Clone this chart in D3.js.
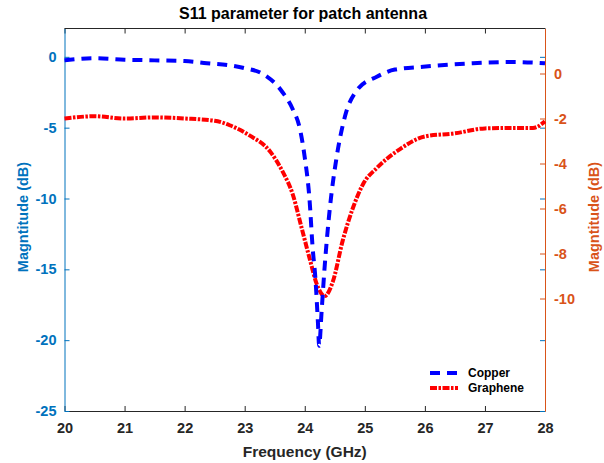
<!DOCTYPE html>
<html><head><meta charset="utf-8">
<script src="https://cdn.jsdelivr.net/npm/d3@7"></script>
<style>
body{margin:0;background:#fff;}
text{font-family:"Liberation Sans",Arial,sans-serif;font-weight:bold;}
</style></head>
<body><svg id="c" width="604" height="463"></svg>
<script>
const freqCopper = [20, 20.5, 21, 21.5, 22, 22.37, 22.75, 23.0, 23.3, 23.63, 23.8, 23.92, 24.0, 24.08, 24.13, 24.18, 24.22, 24.24, 24.28, 24.33, 24.42, 24.53, 24.67, 24.88, 25.2, 25.5, 25.97, 26.4, 26.8, 27.47, 28];
const copper = [-0.25, -0.1, -0.2, -0.25, -0.3, -0.45, -0.6, -0.8, -1.2, -2.5, -3.7, -5.1, -7.1, -10.1, -13.4, -15.8, -18.8, -20.4, -18.0, -14.9, -10.6, -7.1, -4.2, -2.3, -1.4, -0.9, -0.7, -0.55, -0.45, -0.37, -0.45];
const freqGraphene = [20, 20.5, 21, 21.5, 22, 22.5, 22.75, 23.08, 23.42, 23.63, 23.8, 23.95, 24.08, 24.2, 24.33, 24.47, 24.63, 24.8, 24.97, 25.2, 25.58, 26, 26.5, 27, 27.5, 27.8, 28];
const graphene = [-2.0, -1.9, -2.0, -1.95, -2.0, -2.1, -2.3, -2.75, -3.46, -4.35, -5.37, -6.88, -8.21, -9.36, -9.89, -9.23, -7.45, -5.99, -4.92, -4.2, -3.37, -2.8, -2.66, -2.44, -2.42, -2.42, -2.13];
const xTicks = [20, 21, 22, 23, 24, 25, 26, 27, 28];
const leftTicks = [0, -5, -10, -15, -20, -25];
const rightTicks = [0, -2, -4, -6, -8, -10];

const L = 64.5, R = 545, T = 28.5, B = 411;
const blueAx = "#0072BD", orangeAx = "#D95319", dark = "#262626";
const fmt = d => String(d);
const svg = d3.select("#c");
const x = d3.scaleLinear().domain([20, 28]).range([L, R]);
const yL = d3.scaleLinear().domain([-25, 2]).range([B, T]);
const yR = d3.scaleLinear().domain([-15, 2]).range([B, T]);

svg.append("line").attr("x1", L).attr("x2", R).attr("y1", T).attr("y2", T).attr("stroke", dark).attr("stroke-width", 1);

const gx = svg.append("g").attr("transform", `translate(0,${B})`)
  .call(d3.axisBottom(x).tickValues(xTicks).tickSizeInner(-5).tickSizeOuter(0).tickPadding(12).tickFormat(fmt));
gx.selectAll("path,line").attr("stroke", dark);
gx.selectAll("text").attr("fill", dark).style("font-size", "14.5px");
const gxt = svg.append("g").attr("transform", `translate(0,${T})`)
  .call(d3.axisTop(x).tickValues(xTicks).tickSizeInner(-5).tickSizeOuter(0).tickFormat(""));
gxt.selectAll("path").remove();
gxt.selectAll("line").attr("stroke", dark);

const gl = svg.append("g").attr("transform", `translate(${L},0)`)
  .call(d3.axisLeft(yL).tickValues(leftTicks).tickSizeInner(-5).tickSizeOuter(0).tickPadding(8).tickFormat(fmt));
gl.selectAll("path,line").attr("stroke", blueAx);
gl.selectAll("text").attr("fill", blueAx).style("font-size", "14.5px");

const glr = svg.append("g").attr("transform", `translate(${R},0)`)
  .call(d3.axisRight(yL).tickValues(leftTicks).tickSizeInner(-5).tickSizeOuter(0).tickFormat(""));
glr.selectAll("path").remove();
glr.selectAll("line").attr("stroke", blueAx);

const gr = svg.append("g").attr("transform", `translate(${R},0)`)
  .call(d3.axisRight(yR).tickValues(rightTicks).tickSizeInner(-5).tickSizeOuter(0).tickPadding(9).tickFormat(fmt));
gr.selectAll("path,line").attr("stroke", orangeAx);
gr.selectAll("text").attr("fill", orangeAx).style("font-size", "14.5px");

const lineC = d3.line().x((d, i) => x(freqCopper[i])).y(d => yL(d)).curve(d3.curveMonotoneX);
const lineG = d3.line().x((d, i) => x(freqGraphene[i])).y(d => yR(d)).curve(d3.curveMonotoneX);
svg.append("path").attr("d", lineG(graphene)).attr("fill", "none").attr("stroke", "#FF0000")
  .attr("stroke-width", 4).attr("stroke-dasharray", "7,1.5,2.5,1.5");
svg.append("path").attr("d", lineC(copper)).attr("fill", "none").attr("stroke", "#0000FF")
  .attr("stroke-width", 4).attr("stroke-dasharray", "10,7");

svg.append("text").attr("x", 303).attr("y", 19).attr("text-anchor", "middle")
  .style("font-size", "16px").attr("fill", "#000").text("S11 parameter for patch antenna");
svg.append("text").attr("x", (L + R) / 2).attr("y", 457).attr("text-anchor", "middle")
  .style("font-size", "15.5px").attr("fill", dark).text("Frequency (GHz)");
svg.append("text").attr("transform", `translate(28,217) rotate(-90)`).attr("text-anchor", "middle")
  .style("font-size", "14.5px").attr("fill", blueAx).text("Magntitude (dB)");
svg.append("text").attr("transform", `translate(599,217) rotate(-90)`).attr("text-anchor", "middle")
  .style("font-size", "14.5px").attr("fill", orangeAx).text("Magntitude (dB)");

const lg = svg.append("g");
const legendItems = [["Copper", "#0000FF", "10,7", 373], ["Graphene", "#FF0000", "7,1.5,2.5,1.5", 388]];
legendItems.forEach(([name, col, dash, yy]) => {
  lg.append("line").attr("x1", 430).attr("x2", 458).attr("y1", yy).attr("y2", yy)
    .attr("stroke", col).attr("stroke-width", 4).attr("stroke-dasharray", dash);
  lg.append("text").attr("x", 468).attr("y", yy + 4).style("font-size", "12px").attr("fill", "#000").text(name);
});
</script></body></html>
